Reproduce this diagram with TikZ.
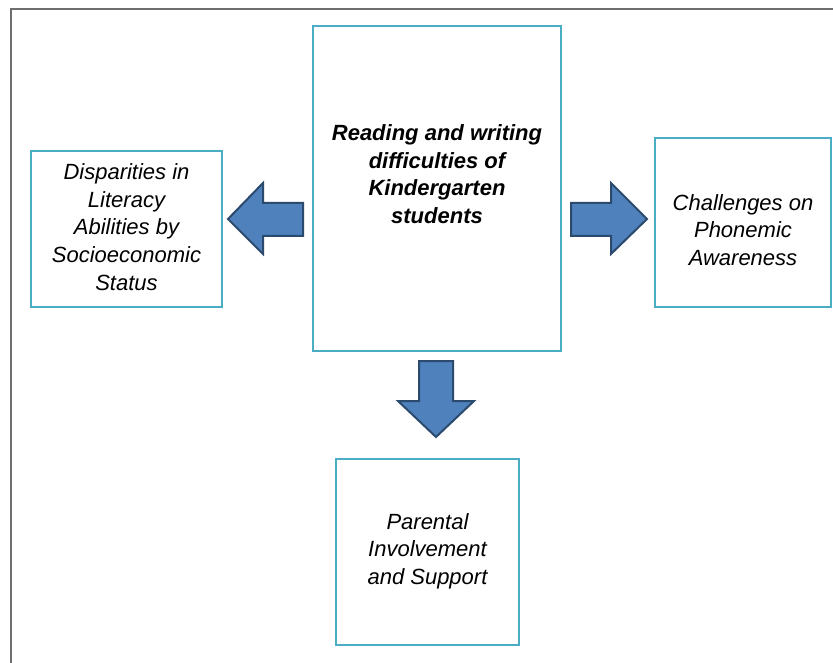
\documentclass[tikz,border=0pt]{standalone}
\usepackage{fontspec}
\setmainfont{Liberation Sans}
\definecolor{teal}{HTML}{4BACC6}
\definecolor{arrfill}{HTML}{4F81BD}
\definecolor{arrline}{HTML}{2C4A6E}
\definecolor{framegray}{HTML}{6E6E6E}
\begin{document}
\begin{tikzpicture}[x=1pt,y=-1pt,
  box/.style={draw=teal,line width=2.6pt,fill=white,inner sep=0pt},
  lbl/.style={align=center,font=\fontsize{22}{27.6}\selectfont\itshape,inner sep=0pt},
  blockarrow/.style={fill=arrfill,draw=arrline,line width=2pt,line join=miter}]
\useasboundingbox (0,0) rectangle (833,663);
\fill[white] (0,0) rectangle (833,663);
% outer frame
\coordinate (fbl) at (11,664);
\coordinate (ftl) at (11,9);
\coordinate (ftr) at (834,9);
\draw[framegray,line width=1.8pt] (fbl) -- (ftl) -- (ftr);
% boxes
\node[box,minimum width=248pt,minimum height=325pt] (center) at (437,188.5) {};
\node[box,minimum width=191pt,minimum height=156pt] (left) at (126.5,229) {};
\node[box,minimum width=176pt,minimum height=169pt] (right) at (743,222.5) {};
\node[box,minimum width=183pt,minimum height=186pt] (bottom) at (427.5,552) {};
% labels
\node[lbl,font=\fontsize{22}{27.6}\selectfont\bfseries\itshape] (ctext) at (437,174) {Reading and writing\\difficulties of\\Kindergarten\\students};
\node[lbl] (ltext) at (126.5,227) {Disparities in\\Literacy\\Abilities by\\Socioeconomic\\Status};
\node[lbl] (rtext) at (743,230) {Challenges on\\Phonemic\\Awareness};
\node[lbl] (btext) at (427.5,551) {Parental\\Involvement\\and Support};
% block arrows
\draw[blockarrow] (303,203) -- (263,203) -- (263,183) -- (228,219) -- (263,254) -- (263,236) -- (303,236) -- cycle;
\draw[blockarrow] (571,203) -- (611,203) -- (611,183) -- (647,219) -- (611,254) -- (611,236) -- (571,236) -- cycle;
\draw[blockarrow] (419,361) -- (453,361) -- (453,401) -- (474,401) -- (436,437) -- (398,401) -- (419,401) -- cycle;
\end{tikzpicture}
\end{document}
